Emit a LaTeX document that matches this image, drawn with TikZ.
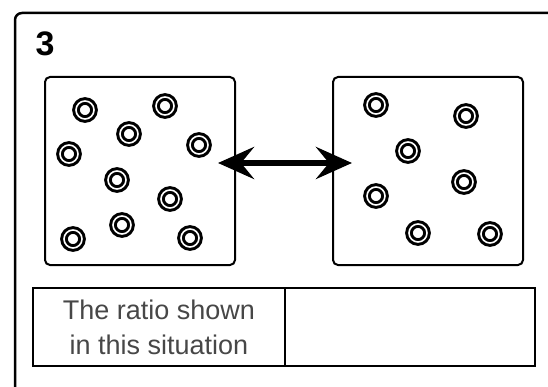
\documentclass[tikz,border=0pt]{standalone}
\usepackage{fontspec}
\setmainfont{Liberation Sans}
\usetikzlibrary{arrows.meta,positioning}
\tikzset{%
    >={Stealth[length=36pt,width=32pt,inset=13pt]},
    % Specifications for style of nodes:
    frame/.style = {draw=black, line width=2.5pt, rounded corners=7pt},
    box/.style = {
        rectangle, rounded corners=5pt, draw=black, line width=2pt,
        minimum width=190pt, minimum height=188pt,
        inner sep=0pt, outer sep=0pt
    },
    ring/.style = {
        circle, draw=black, line width=3pt,
        double=white, double distance=1.6pt,
        minimum size=18pt, inner sep=0pt
    },
    cell/.style = {
        rectangle, draw=black, line width=2pt,
        minimum height=78pt, inner sep=0pt, outer sep=0pt,
        align=center, text=black!72,
        font=\fontsize{27}{35}\selectfont
    },
    link/.style = {<->, line width=6pt}
}

\begin{document}
\begin{tikzpicture}[x=1pt, y=-1pt]
    \useasboundingbox (0,0) rectangle (548,387);
    \draw[frame] (15,400) -- (15,13) -- (560,13);
    \node[font=\bfseries\fontsize{34}{34}\selectfont] (num) at (45,44) {3};
    % the two boxes
    \node[box] (lbox) at (140,171) {};
    \node[box, right=98pt of lbox] (rbox) {};
    \foreach \x/\y [count=\i] in {85/110, 165/106, 129/134, 69/154, 199/145,
                                   117/180, 170/199, 73/239, 122/225, 190/238}
        \node[ring] (l\i) at (\x,\y) {};
    \foreach \x/\y [count=\i] in {376/105, 466/116, 408/151, 464/182, 376/196,
                                   418/233, 490/234}
        \node[ring] (r\i) at (\x,\y) {};
    \coordinate (tipl) at (218,163);
    \coordinate (tipr) at (352,163);
    \draw[link] (tipl) -- (tipr);
    % the table
    \node[cell, minimum width=252pt] (c1) at (159,327) {The ratio shown\\in this situation};
    \node[cell, minimum width=250pt, right=0pt of c1] (c2) {};
\end{tikzpicture}
\end{document}
